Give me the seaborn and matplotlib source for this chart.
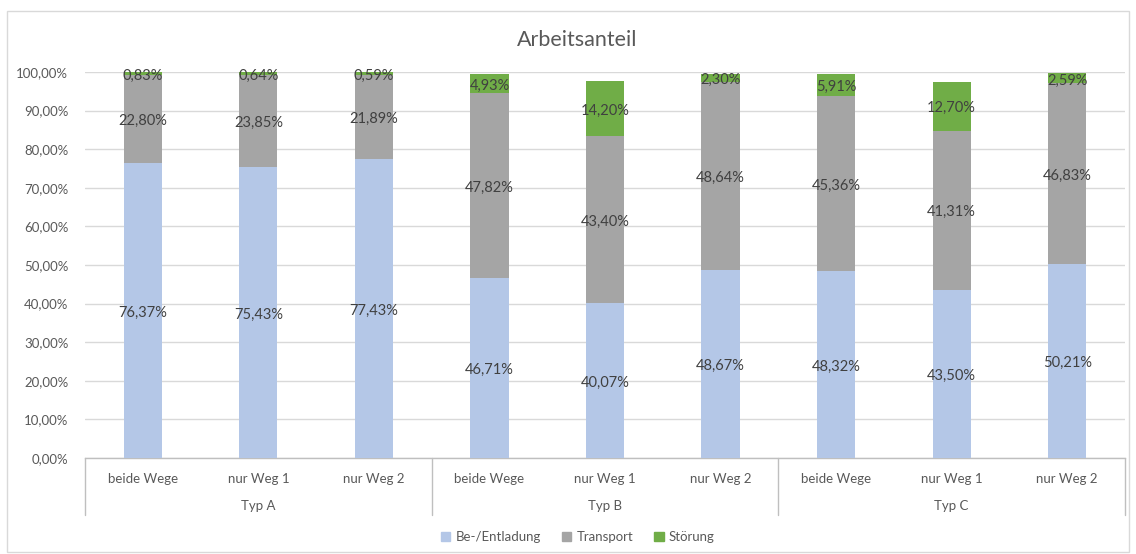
import matplotlib
matplotlib.use("Agg")
import matplotlib.pyplot as plt
import matplotlib.ticker as mticker
import matplotlib.transforms as mtransforms
import numpy as np
import pandas as pd
import seaborn as sns

# Data
groups = ["Typ A", "Typ B", "Typ C"]
variants = ["beide Wege", "nur Weg 1", "nur Weg 2"]
series = ["Be-/Entladung", "Transport", "Störung"]
be_entladung = [76.37, 75.43, 77.43, 46.71, 40.07, 48.67, 48.32, 43.50, 50.21]
transport = [22.80, 23.85, 21.89, 47.82, 43.40, 48.64, 45.36, 41.31, 46.83]
stoerung = [0.83, 0.64, 0.59, 4.93, 14.20, 2.30, 5.91, 12.70, 2.59]
y_ticks = [0, 10, 20, 30, 40, 50, 60, 70, 80, 90, 100]

colors = ["#B4C7E7", "#A5A5A5", "#70AD47"]
label_color = "#404040"
axis_text = "#595959"

sns.set_theme(style="white")
plt.rcParams["font.family"] = ["Lato", "DejaVu Sans"]

keys = [f"{g}|{v}" for g in groups for v in variants]
df = pd.DataFrame({
    "key": keys,
    series[0]: np.array(be_entladung) / 100,
    series[1]: np.array(transport) / 100,
    series[2]: np.array(stoerung) / 100,
})

fig = plt.figure(figsize=(11.36, 5.54), dpi=100)
ax = fig.add_axes([85 / 1136, 1 - 458 / 554, (1125 - 85) / 1136, (458 - 72) / 554])

# Value labels sit slightly below the segment centre
label_trans = ax.transData + mtransforms.ScaledTranslation(0, -2 / 100, fig.dpi_scale_trans)

bottom = np.zeros(len(df))
for name, col in zip(series, colors):
    vals = df[name].to_numpy()
    sns.barplot(x=df["key"], y=vals, bottom=bottom, color=col, width=0.33,
                order=keys, ax=ax, saturation=1, linewidth=0, zorder=3)
    for i, (v, b) in enumerate(zip(vals, bottom)):
        ax.text(i, b + v / 2, f"{v * 100:.2f}%".replace(".", ","),
                ha="center", va="center", fontsize=10.5, color=label_color,
                zorder=4, transform=label_trans)
    bottom = bottom + vals

ax.set_xlim(-0.5, len(keys) - 0.5)
ax.set_ylim(0, 1)
ax.set_yticks(np.array(y_ticks) / 100)
ax.yaxis.set_major_formatter(mticker.FuncFormatter(lambda v, _: f"{v * 100:.2f}%".replace(".", ",")))
ax.tick_params(axis="y", labelsize=9.5, labelcolor=axis_text, length=0, pad=12)
ax.grid(axis="y", color="#D9D9D9", linewidth=1, zorder=0)
ax.set_axisbelow(True)
for s in ["left", "right", "top"]:
    ax.spines[s].set_visible(False)
ax.spines["bottom"].set_color("#BFBFBF")
ax.spines["bottom"].set_linewidth(1)
ax.set_xlabel("")
ax.set_ylabel("")

# Two-level category axis
ax.set_xticks(range(len(keys)))
ax.set_xticklabels([k.split("|")[1] for k in keys])
ax.tick_params(axis="x", labelsize=9.5, labelcolor=axis_text, length=0, pad=11)
trans = ax.get_xaxis_transform()
for gi, g in enumerate(groups):
    ax.text(gi * 3 + 1, -0.125, g, transform=trans, ha="center", va="center",
            fontsize=9.5, color=axis_text)
for xb in [-0.5, 2.5, 5.5, 8.5]:
    ax.plot([xb, xb], [0, -0.148], transform=trans, color="#BFBFBF",
            linewidth=1, clip_on=False)

fig.text(577 / 1136, 1 - 40 / 554, "Arbeitsanteil", fontsize=15.5, color=axis_text,
         ha="center", va="center")

handles = [plt.Rectangle((0, 0), 1, 1, color=c) for c in colors]
fig.legend(handles, series, loc="center", bbox_to_anchor=(578 / 1136, 1 - 537 / 554),
           ncol=3, frameon=False, fontsize=9.5, labelcolor=axis_text,
           handlelength=0.7, handleheight=0.7, handletextpad=0.4, columnspacing=1.6)

fig.patches.append(plt.Rectangle((7 / 1136, 2 / 554), 1122 / 1136, 541 / 554,
                                 transform=fig.transFigure, fill=False,
                                 edgecolor="#D9D9D9", linewidth=1))

fig.savefig("out.png", dpi=100)
